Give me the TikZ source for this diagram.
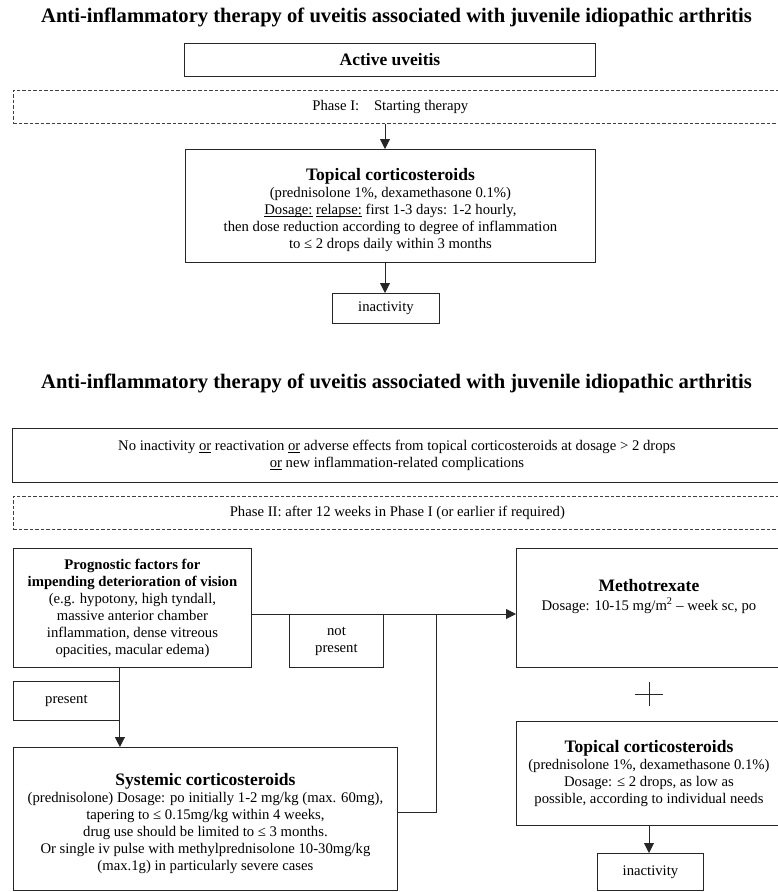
\documentclass[tikz,border=0pt]{standalone}
\usepackage{fontspec}
\setmainfont{Liberation Serif}
\usetikzlibrary{arrows.meta}
\newcommand\myul[1]{\setbox0\hbox{#1}\rlap{\rule[-1.8pt]{\wd0}{0.6pt}}\box0\relax}
\begin{document}
\begin{tikzpicture}[x=1pt,y=-1pt,
  box/.style={draw=black!85, line width=0.9pt, inner sep=0pt, align=center, anchor=north west,
    font=\fontsize{14.7}{17}\selectfont},
  dbox/.style={box, draw=black!75, line width=0.7pt, dash pattern=on 3.5pt off 2pt},
  ttl/.style={font=\fontsize{20.6}{24}\selectfont\bfseries, inner sep=0pt},
  arr/.style={draw=black!85, line width=0.9pt, -{Triangle[length=10pt,width=10pt]}},
  ln/.style={draw=black!85, line width=0.9pt}]
\useasboundingbox (0,0) rectangle (778,892);
\fill[white] (0,0) rectangle (778,892);

\node[ttl] (title1) at (396.5,17) {Anti-inflammatory therapy of uveitis associated with juvenile idiopathic arthritis};
\node[box, minimum width=411pt, minimum height=33pt] (active) at (184,43) {\fontsize{17.5}{20}\selectfont\bfseries Active uveitis};
\node[dbox, minimum width=768pt, minimum height=33pt] (phase1) at (13,90) {\hspace*{-14pt}Phase I:\quad Starting therapy};
\node[box, minimum width=410pt, minimum height=113pt] (topical1) at (185,149)
  {{\fontsize{17.5}{20}\selectfont\bfseries\rule{0pt}{20pt}Topical corticosteroids}\\
   (prednisolone 1\%, dexamethasone 0.1\%)\\
   \myul{Dosage:} \myul{relapse:} first 1-3 days: 1-2 hourly,\\
   then dose reduction according to degree of inflammation\\
   to ≤ 2 drops daily within 3 months};
\node[box, minimum width=107pt, minimum height=30pt] (inact1) at (332,293) {inactivity};

\node[ttl] (title2) at (396.5,383) {Anti-inflammatory therapy of uveitis associated with juvenile idiopathic arthritis};
\node[box, minimum width=769pt, minimum height=54pt] (noinact) at (12,428)
  {No inactivity \myul{or} reactivation \myul{or} adverse effects from topical corticosteroids at dosage > 2 drops\\
   \myul{or} new inflammation-related complications};
\node[dbox, minimum width=768pt, minimum height=33pt] (phase2) at (13,496) {Phase II: after 12 weeks in Phase I (or earlier if required)};
\node[box, minimum width=238pt, minimum height=119pt] (prog) at (13,548)
  {{\fontsize{14.7}{17}\selectfont\bfseries Prognostic factors for}\\
   {\fontsize{14.7}{17}\selectfont\bfseries impending deterioration of vision}\\
   (e.g. hypotony, high tyndall,\\
   massive anterior chamber\\
   inflammation, dense vitreous\\
   opacities, macular edema)};
\node[box, minimum width=94pt, minimum height=53pt] (notpres) at (289,614) {not\\present};
\node[box, minimum width=265pt, minimum height=119pt] (metho) at (516,548)
  {{\fontsize{17.5}{20}\selectfont\bfseries Methotrexate}\\[2pt]
   Dosage: 10-15 mg/m\textsuperscript{2} – week sc, po\\[10pt]\mbox{}};
\node[box, minimum width=106pt, minimum height=39pt] (present) at (13,681) {present};
\node[box, minimum width=384pt, minimum height=143pt] (systemic) at (13,747)
  {\fontsize{14.7}{16.2}\selectfont{\fontsize{17.5}{20}\selectfont\bfseries\rule{0pt}{21pt}Systemic corticosteroids}\\
   (prednisolone) Dosage: po initially 1-2 mg/kg (max. 60mg),\\
   tapering to ≤ 0.15mg/kg within 4 weeks,\\
   drug use should be limited to ≤ 3 months.\\
   Or single iv pulse with methylprednisolone 10-30mg/kg\\
   (max.1g) in particularly severe cases};
\node[box, minimum width=265pt, minimum height=104pt] (topical2) at (516,721)
  {\fontsize{14.7}{16.2}\selectfont{\fontsize{17.5}{20}\selectfont\bfseries Topical corticosteroids}\\
   (prednisolone 1\%, dexamethasone 0.1\%)\\
   Dosage: ≤ 2 drops, as low as\\
   possible, according to individual needs};
\node[box, minimum width=106pt, minimum height=37pt] (inact2) at (597,853) {inactivity};

% plus sign
\coordinate (plusc) at (649,694);
\draw[ln, line width=0.7pt] ([xshift=-14pt]plusc) -- ([xshift=14pt]plusc);
\draw[ln, line width=0.7pt] ([yshift=-12pt]plusc) -- ([yshift=12pt]plusc);

% connectors
\coordinate (ax) at (385,0);
\draw[arr] (phase1.south -| ax) -- (topical1.north -| ax);
\draw[arr] (topical1.south -| ax) -- (inact1.north -| ax);
\draw[arr] (prog.east |- notpres.north) -- (metho.west |- notpres.north);
\coordinate (j1) at (436,614);
\coordinate (j2) at (436,812);
\draw[ln] (j1) -- (j2) -- (j2 -| systemic.east);
\draw[arr] (prog.south -| present.east) -- (systemic.north -| present.east);
\coordinate (bx) at (649,0);
\draw[arr] (topical2.south -| bx) -- (inact2.north -| bx);
\end{tikzpicture}
\end{document}
